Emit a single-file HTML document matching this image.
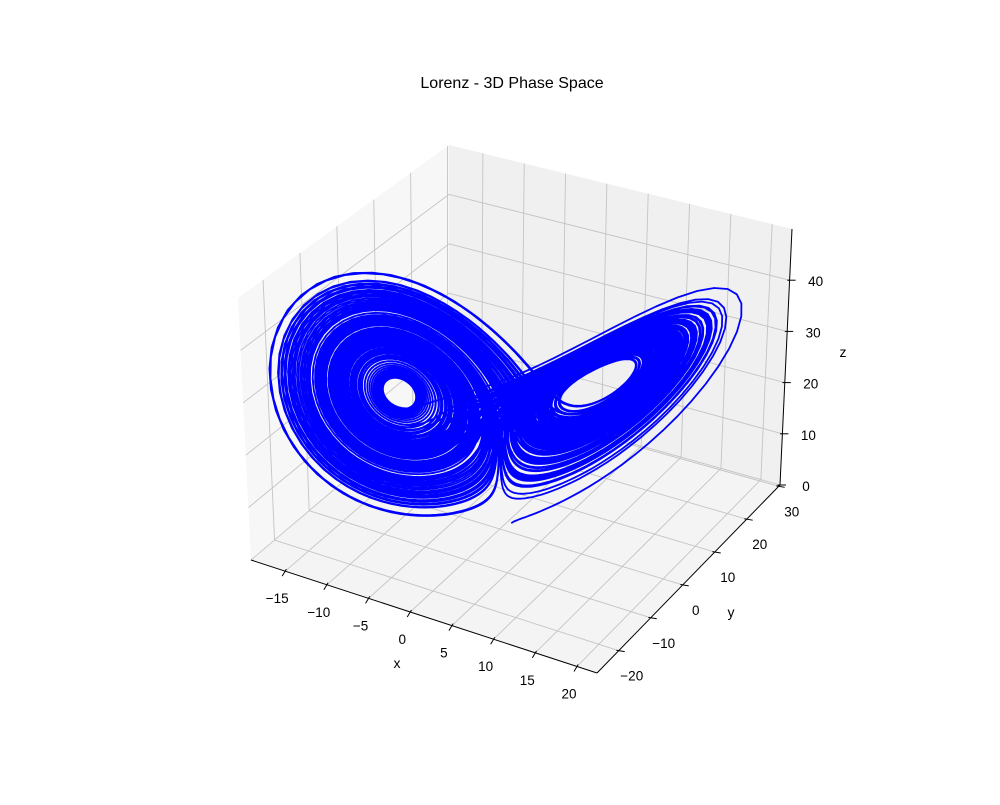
<!DOCTYPE html>
<html><head><meta charset="utf-8"><style>
html,body{margin:0;padding:0;background:#fff}
svg text{font-family:"Liberation Sans","DejaVu Sans",sans-serif;fill:#000}
</style></head><body>
<svg id="chart" width="1000" height="800" viewBox="0 0 1000 800" xmlns="http://www.w3.org/2000/svg">
<rect width="1000" height="800" fill="#fff"/>
<text x="512" y="88" font-size="16" text-anchor="middle">Lorenz - 3D Phase Space</text>
<g id="panes"></g>
<g id="grid"></g>
<g id="axes"></g>
<path id="traj" fill="none" stroke="#0000ff" stroke-width="1.8" stroke-linejoin="round"/>
<text x="397" y="668" font-size="14" text-anchor="middle">x</text>
<text x="731" y="617" font-size="14" text-anchor="middle">y</text>
<text x="843" y="357" font-size="14" text-anchor="middle">z</text>
</svg>
<script>
// Lorenz system parameters (sigma, rho, beta)
const lorenzParams = [10, 28, 8/3];
// initial state x, y, z
const initialState = [1, 1, 1];
// time step and step count
const timeStep = [0.01];
const stepCount = [20000];
// axis ranges
const xRange = [-19.1, 22.4];
const yRange = [-26.8, 30.4];
const zRange = [0, 50];
// ticks
const xTicks = [-15, -10, -5, 0, 5, 10, 15, 20];
const yTicks = [-20, -10, 0, 10, 20, 30];
const zTicks = [0, 10, 20, 30, 40];
const xTickLabels = ["\u221215","\u221210","\u22125","0","5","10","15","20"];
const yTickLabels = ["\u221220","\u221210","0","10","20","30"];
const zTickLabels = ["0","10","20","30","40"];

// screen corners of the box c[u][v][w]
const C = {
  "000":[251,560],"100":[597,673],"110":[780,485],"010":[449,392],
  "001":[238,298],"101":[601,398],"111":[792,229],"011":[449,145]
};
function lerp(a,b,t){return [a[0]+(b[0]-a[0])*t,a[1]+(b[1]-a[1])*t];}
function proj(x,y,z){
  const u=(x-xRange[0])/(xRange[1]-xRange[0]);
  const v=(y-yRange[0])/(yRange[1]-yRange[0]);
  const w=(z-zRange[0])/(zRange[1]-zRange[0]);
  const f=lerp(lerp(C["000"],C["100"],u),lerp(C["010"],C["110"],u),v);
  const t=lerp(lerp(C["001"],C["101"],u),lerp(C["011"],C["111"],u),v);
  return lerp(f,t,w);
}
const NS="http://www.w3.org/2000/svg";
function mk(tag,attrs,parent){const e=document.createElementNS(NS,tag);for(const k in attrs)e.setAttribute(k,attrs[k]);parent.appendChild(e);return e;}
const panes=document.getElementById('panes'),grid=document.getElementById('grid'),axes=document.getElementById('axes');
function poly(pts){return pts.map(p=>p[0].toFixed(1)+','+p[1].toFixed(1)).join(' ');}
const [x0,x1]=xRange,[y0,y1]=yRange,[z0,z1]=zRange;
let p;
p=mk('polygon',{points:poly([proj(x0,y0,z0),proj(x0,y1,z0),proj(x0,y1,z1),proj(x0,y0,z1)]),fill:'#f7f7f7'},panes);


p=mk('polygon',{points:poly([proj(x0,y1,z0),proj(x1,y1,z0),proj(x1,y1,z1),proj(x0,y1,z1)]),fill:'#f0f0f0'},panes);


p=mk('polygon',{points:poly([proj(x0,y0,z0),proj(x1,y0,z0),proj(x1,y1,z0),proj(x0,y1,z0)]),fill:'#f4f4f4'},panes);


function gl(a,b,name){const l=mk('line',{x1:a[0],y1:a[1],x2:b[0],y2:b[1],stroke:'#c4c4c4','stroke-width':0.9},grid);

}
xTicks.forEach(x=>{gl(proj(x,y0,z0),proj(x,y1,z0),'grid-x-floor');gl(proj(x,y1,z0),proj(x,y1,z1),'grid-x-back');});
yTicks.forEach(y=>{gl(proj(x1,y,z0),proj(x0,y,z0),'grid-y-floor');gl(proj(x0,y,z0),proj(x0,y,z1),'grid-y-left');});
zTicks.forEach(z=>{gl(proj(x0,y0,z),proj(x0,y1,z),'grid-z-left');gl(proj(x0,y1,z),proj(x1,y1,z),'grid-z-back');});
function al(a,b,name){const l=mk('line',{x1:a[0],y1:a[1],x2:b[0],y2:b[1],stroke:'#000','stroke-width':1},axes);

}
al(proj(x0,y0,z0),proj(x1,y0,z0),'x-axis-line');
al(proj(x1,y0,z0),proj(x1,y1,z0),'y-axis-line');
al(proj(x1,y1,z0),proj(x1,y1,z1),'z-axis-line');
function tick(pt,dx,dy,name){const l=mk('line',{x1:pt[0]-dx*0.4,y1:pt[1]-dy*0.4,x2:pt[0]+dx,y2:pt[1]+dy,stroke:'#000','stroke-width':1},axes);

}
function lbl(x,y,s,name){const t=mk('text',{x:x,y:y,'font-size':13.5,'text-anchor':'middle'},axes);t.textContent=s;

}
xTicks.forEach((x,i)=>{const q=proj(x,y0,z0);tick(q,-3,5,'x-tick');lbl(q[0]-8,q[1]+32,xTickLabels[i],'x-tick-label');});
yTicks.forEach((y,i)=>{const q=proj(x1,y,z0);tick(q,6,1,'y-tick');lbl(q[0]+13,q[1]+30,yTickLabels[i],'y-tick-label');});
zTicks.forEach((z,i)=>{const q=proj(x1,y1,z);tick(q,6,0,'z-tick');lbl(q[0]+26,q[1]+6,zTickLabels[i],'z-tick-label');});

// integrate Lorenz system (RK4)
const [sg,rh,bt]=lorenzParams;
function d(s){return [sg*(s[1]-s[0]), s[0]*(rh-s[2])-s[1], s[0]*s[1]-bt*s[2]];}
let s=initialState.slice();const h=timeStep[0];
const pts=[proj(s[0],s[1],s[2])];
for(let i=0;i<stepCount[0];i++){
  const k1=d(s);const k2=d(s.map((v,j)=>v+h/2*k1[j]));const k3=d(s.map((v,j)=>v+h/2*k2[j]));const k4=d(s.map((v,j)=>v+h*k3[j]));
  s=s.map((v,j)=>v+h/6*(k1[j]+2*k2[j]+2*k3[j]+k4[j]));
  pts.push(proj(s[0],s[1],s[2]));
}
document.getElementById('traj').setAttribute('d','M'+pts.map(q=>q[0].toFixed(1)+' '+q[1].toFixed(1)).join('L'));
</script>
</body></html>
